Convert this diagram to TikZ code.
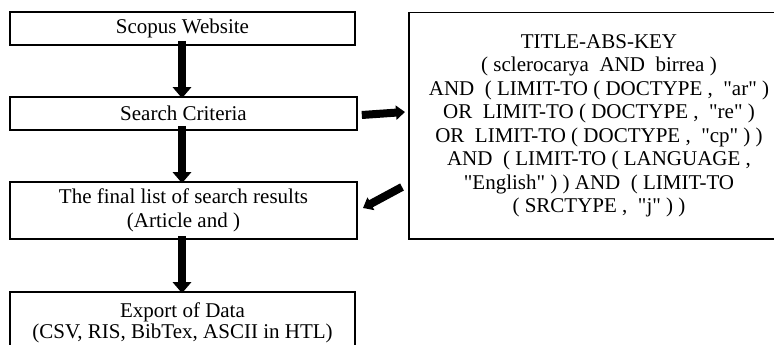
\documentclass[tikz,border=0pt]{standalone}
\usepackage{fontspec}
\setmainfont{Liberation Serif}
\usetikzlibrary{arrows.meta}
\newcommand{\sq}{\XeTeXglyph\XeTeXcharglyph"22\relax}
\begin{document}
\begin{tikzpicture}[x=1pt,y=-1pt,
  flowbox/.style={draw=black,line width=1.6pt,rectangle,inner sep=0pt,align=center,
    font=\fontsize{21}{23.5}\selectfont},
  bigdown/.style={line width=8pt,-{Triangle[length=11pt,width=18pt]}},
  bigside/.style={line width=8pt,-{Triangle[length=9pt,width=14pt]}}]
\useasboundingbox (0,0) rectangle (774,345);
\fill[white] (0,0) rectangle (774,345);
\node[flowbox,minimum width=345pt,minimum height=33pt] (b1) at (182.5,28.5) {Scopus Website};
\node[flowbox,minimum width=347pt,minimum height=33pt] (b2) at (183.5,113.5) {Search Criteria};
\node[flowbox,minimum width=347pt,minimum height=57pt] (b3) at (183.5,210.5) {The final list of search results\\(Article and )};
\node[flowbox,minimum width=345pt,minimum height=62pt,font=\fontsize{21}{20.5}\selectfont] (b4) at (182.5,323) {Export of Data\\(CSV, RIS, BibTex, ASCII in HTL)};
\node[flowbox,minimum width=380pt,minimum height=226.5pt] (q) at (599,125.75)
  {TITLE-ABS-KEY\\
   ( sclerocarya\ \ AND\ \ birrea )\\
   AND\ \ ( LIMIT-TO ( DOCTYPE ,\ \ \sq ar\sq\ )\\
   OR\ \ LIMIT-TO ( DOCTYPE ,\ \ \sq re\sq\ )\\
   OR\ \ LIMIT-TO ( DOCTYPE ,\ \ \sq cp\sq\ ) )\\
   AND\ \ ( LIMIT-TO ( LANGUAGE ,\\
   \sq English\sq\ ) ) AND\ \ ( LIMIT-TO\\
   ( SRCTYPE ,\ \ \sq j\sq\ ) )};
\coordinate (a1s) at ([xshift=-0.5pt,yshift=5pt]b1.south);
\coordinate (a1e) at ([xshift=-1.5pt,yshift=-2pt]b2.north);
\coordinate (a2s) at ([xshift=-1.5pt,yshift=5pt]b2.south);
\coordinate (a2e) at ([xshift=-1.5pt,yshift=-2pt]b3.north);
\coordinate (a3s) at ([xshift=-1.5pt,yshift=4pt]b3.south);
\coordinate (a3e) at ([xshift=-0.5pt,yshift=-2pt]b4.north);
\coordinate (rs) at ([xshift=4pt,yshift=-1.5pt]b2.east);
\coordinate (re) at (405,112);
\coordinate (ds) at (402,187);
\coordinate (de) at (363,208);
\draw[bigdown] (a1s) -- (a1e);
\draw[bigdown] (a2s) -- (a2e);
\draw[bigdown] (a3s) -- (a3e);
\draw[bigside] (rs) -- (re);
\draw[bigside] (ds) -- (de);
\end{tikzpicture}
\end{document}
